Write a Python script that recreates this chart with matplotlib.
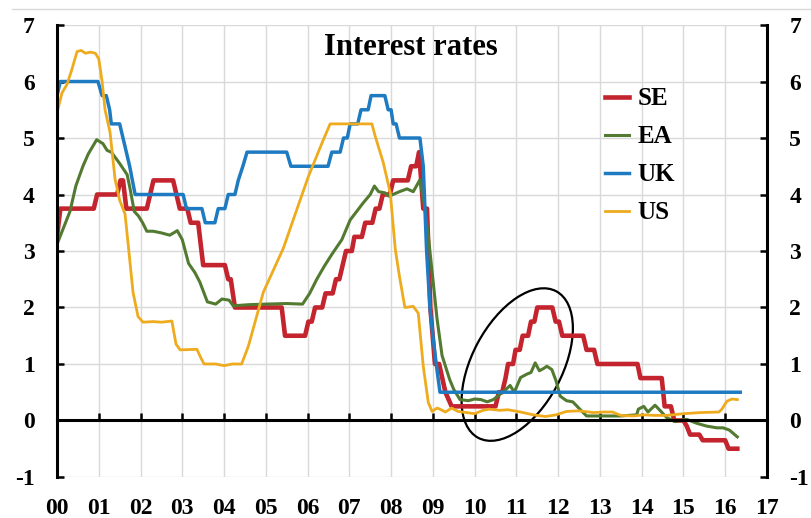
import matplotlib
matplotlib.use("Agg")
import matplotlib.pyplot as plt
from matplotlib.lines import Line2D
from matplotlib.patches import Ellipse
from matplotlib.transforms import ScaledTranslation

plt.rcParams["font.family"] = ["Liberation Serif", "DejaVu Serif"]
plt.rcParams["font.weight"] = "bold"
plt.rcParams["axes.unicode_minus"] = False

# ---------------------------------------------------------------- data
years = list(range(2000, 2018))
year_labels = ["%02d" % (y - 2000) for y in years]

se_t = [2000.00, 2000.08, 2000.88, 2000.96, 2001.44, 2001.52, 2001.58, 2001.66, 2002.15, 2002.23,
        2002.31, 2002.78, 2002.86, 2002.94, 2003.12, 2003.20, 2003.38, 2003.46, 2003.50, 2004.02,
        2004.10, 2004.16, 2004.26, 2005.38, 2005.46, 2005.94, 2006.02, 2006.10, 2006.18, 2006.35,
        2006.43, 2006.60, 2006.68, 2006.76, 2006.84, 2006.92, 2007.06, 2007.12, 2007.30, 2007.38,
        2007.55, 2007.63, 2007.72, 2007.80, 2007.97, 2008.05, 2008.40, 2008.48, 2008.60, 2008.67,
        2008.77, 2008.86, 2008.94, 2009.05, 2009.15, 2009.30, 2009.45, 2010.50, 2010.58, 2010.66,
        2010.74, 2010.80, 2010.92, 2010.98, 2011.08, 2011.15, 2011.28, 2011.35, 2011.43, 2011.50,
        2011.86, 2011.94, 2012.02, 2012.10, 2012.60, 2012.68, 2012.86, 2012.94, 2013.90, 2013.97,
        2014.48, 2014.55, 2014.70, 2014.78, 2015.00, 2015.08, 2015.16, 2015.38, 2015.46, 2016.00,
        2016.08, 2016.29]
se_v = [3.25, 3.75, 3.75, 4.00, 4.00, 4.25, 4.25, 3.75, 3.75, 4.00,
        4.25, 4.25, 4.00, 3.75, 3.75, 3.50, 3.50, 3.00, 2.75, 2.75,
        2.50, 2.50, 2.00, 2.00, 1.50, 1.50, 1.75, 1.75, 2.00, 2.00,
        2.25, 2.25, 2.50, 2.50, 2.75, 3.00, 3.00, 3.25, 3.25, 3.50,
        3.50, 3.75, 3.75, 4.00, 4.00, 4.25, 4.25, 4.50, 4.50, 4.75,
        3.75, 3.75, 2.00, 1.00, 1.00, 0.50, 0.25, 0.25, 0.50, 0.50,
        0.75, 1.00, 1.00, 1.25, 1.25, 1.50, 1.50, 1.75, 1.75, 2.00,
        2.00, 1.75, 1.75, 1.50, 1.50, 1.25, 1.25, 1.00, 1.00, 0.75,
        0.75, 0.25, 0.25, 0.00, 0.00, -0.10, -0.25, -0.25, -0.35, -0.35,
        -0.50, -0.50]

ea_t = [2000.00, 2000.15, 2000.31, 2000.45, 2000.62, 2000.75, 2000.95, 2001.10, 2001.20, 2001.30,
        2001.50, 2001.68, 2001.75, 2001.85, 2001.95, 2002.05, 2002.15, 2002.30, 2002.50, 2002.70,
        2002.88, 2003.00, 2003.15, 2003.30, 2003.42, 2003.60, 2003.80, 2003.95, 2004.12, 2004.22,
        2004.60, 2005.00, 2005.50, 2005.88, 2006.05, 2006.22, 2006.40, 2006.58, 2006.82, 2007.02,
        2007.33, 2007.50, 2007.60, 2007.70, 2007.85, 2007.95, 2008.20, 2008.38, 2008.53, 2008.69,
        2008.80, 2008.90, 2009.00, 2009.10, 2009.22, 2009.40, 2009.50, 2009.65, 2009.85, 2010.00,
        2010.15, 2010.30, 2010.45, 2010.60, 2010.75, 2010.85, 2010.95, 2011.10, 2011.25, 2011.35,
        2011.45, 2011.55, 2011.65, 2011.73, 2011.85, 2011.95, 2012.05, 2012.20, 2012.35, 2012.52,
        2012.68, 2013.00, 2013.50, 2013.88, 2013.92, 2014.05, 2014.15, 2014.32, 2014.45, 2014.60,
        2014.80, 2014.92, 2015.08, 2015.32, 2015.56, 2015.80, 2015.95, 2016.10, 2016.29]
ea_v = [3.12, 3.40, 3.70, 4.15, 4.50, 4.72, 4.97, 4.90, 4.78, 4.75,
        4.55, 4.35, 4.10, 3.70, 3.62, 3.50, 3.35, 3.35, 3.32, 3.28,
        3.36, 3.20, 2.78, 2.62, 2.45, 2.10, 2.06, 2.15, 2.13, 2.03,
        2.05, 2.06, 2.07, 2.06, 2.25, 2.50, 2.73, 2.94, 3.20, 3.55,
        3.85, 4.00, 4.15, 4.05, 4.03, 3.97, 4.05, 4.10, 4.05, 4.26,
        3.80, 3.20, 2.50, 1.80, 1.15, 0.73, 0.55, 0.37, 0.35, 0.38,
        0.37, 0.33, 0.37, 0.46, 0.55, 0.62, 0.50, 0.76, 0.82, 0.85,
        1.02, 0.88, 0.92, 0.96, 0.90, 0.70, 0.43, 0.35, 0.33, 0.20,
        0.08, 0.08, 0.08, 0.10, 0.20, 0.25, 0.15, 0.27, 0.17, 0.05,
        -0.02, 0.00, 0.02, -0.05, -0.10, -0.13, -0.13, -0.17, -0.29]

uk_t = [2000.00, 2000.08, 2000.98, 2001.08, 2001.18, 2001.26, 2001.30, 2001.50, 2001.58, 2001.66,
        2001.74, 2001.87, 2003.02, 2003.10, 2003.47, 2003.55, 2003.78, 2003.86, 2004.02, 2004.10,
        2004.26, 2004.34, 2004.45, 2004.55, 2005.50, 2005.60, 2006.49, 2006.58, 2006.78, 2006.86,
        2006.95, 2007.02, 2007.20, 2007.28, 2007.45, 2007.52, 2007.85, 2007.93, 2008.00, 2008.05,
        2008.12, 2008.20, 2008.69, 2008.77, 2008.85, 2008.93, 2009.00, 2009.08, 2009.17, 2016.36]
uk_v = [5.75, 6.00, 6.00, 5.75, 5.75, 5.50, 5.25, 5.25, 5.00, 4.75,
        4.50, 4.00, 4.00, 3.75, 3.75, 3.50, 3.50, 3.75, 3.75, 4.00,
        4.00, 4.25, 4.50, 4.75, 4.75, 4.50, 4.50, 4.75, 4.75, 5.00,
        5.00, 5.25, 5.25, 5.50, 5.50, 5.75, 5.75, 5.50, 5.50, 5.25,
        5.25, 5.00, 5.00, 4.50, 3.00, 2.00, 1.50, 1.00, 0.50, 0.50]

us_t = [2000.00, 2000.12, 2000.24, 2000.35, 2000.48, 2000.58, 2000.68, 2000.80, 2000.92, 2001.00,
        2001.08, 2001.15, 2001.27, 2001.39, 2001.50, 2001.63, 2001.72, 2001.82, 2001.94, 2002.06,
        2002.30, 2002.50, 2002.75, 2002.85, 2002.95, 2003.35, 2003.45, 2003.52, 2003.80, 2004.00,
        2004.20, 2004.42, 2004.58, 2004.94, 2005.42, 2005.66, 2006.02, 2006.35, 2006.54, 2007.54,
        2007.62, 2007.81, 2007.98, 2008.10, 2008.20, 2008.33, 2008.53, 2008.65, 2008.77, 2008.89,
        2008.98, 2009.10, 2009.17, 2009.30, 2009.45, 2009.60, 2009.80, 2010.00, 2010.20, 2010.35,
        2010.60, 2010.80, 2011.10, 2011.40, 2011.70, 2011.95, 2012.20, 2012.50, 2012.85, 2013.10,
        2013.30, 2013.50, 2013.80, 2014.05, 2014.30, 2014.60, 2015.00, 2015.40, 2015.85, 2015.92,
        2016.04, 2016.16, 2016.29]
us_v = [5.45, 5.80, 5.95, 6.20, 6.53, 6.55, 6.50, 6.52, 6.50, 6.40,
        6.00, 5.50, 5.10, 4.27, 3.90, 3.65, 3.00, 2.27, 1.84, 1.74,
        1.75, 1.74, 1.76, 1.35, 1.25, 1.26, 1.10, 1.00, 1.00, 0.97,
        1.00, 1.00, 1.31, 2.27, 3.05, 3.56, 4.32, 4.92, 5.25, 5.25,
        5.03, 4.57, 4.03, 3.03, 2.55, 2.00, 2.02, 1.90, 0.96, 0.32,
        0.16, 0.22, 0.20, 0.15, 0.22, 0.16, 0.14, 0.12, 0.18, 0.20,
        0.18, 0.19, 0.15, 0.10, 0.07, 0.10, 0.16, 0.17, 0.14, 0.15,
        0.15, 0.09, 0.08, 0.10, 0.09, 0.09, 0.12, 0.14, 0.15, 0.20,
        0.34, 0.38, 0.37]

# highlighted episode: centre in data units
ring_centre = (2011.02, 0.99)

# ---------------------------------------------------------------- figure
fig = plt.figure(figsize=(8.11, 5.18), dpi=100)
ax = fig.add_axes([0.0703, 0.0792, 0.8754, 0.8725])
ax.set_xlim(2000, 2017)
ax.set_ylim(-1, 7)

ax.plot(se_t, se_v, color="#c3242d", lw=3.3, label="SE")
ax.plot(ea_t, ea_v, color="#527a30", lw=2.2, label="EA")
ax.plot(uk_t, uk_v, color="#1f7bc1", lw=2.5, label="UK")
ax.plot(us_t, us_v, color="#eeab1e", lw=2.0, label="US")

ax.grid(True, color="#d9d9d9", lw=1)
ax.set_axisbelow(True)
ax.set_xticks(years)
ax.set_yticks(range(-1, 8))

for s in ("left", "right", "bottom"):
    ax.spines[s].set_linewidth(2.2)
ax.spines["top"].set_visible(False)
ax.spines["bottom"].set_position(("data", 0))

ax.tick_params(axis="x", direction="in", length=5, width=1.8, labelbottom=False)
ax.tick_params(axis="y", direction="in", length=5, width=1.8, left=True, right=True,
               labelleft=True, labelright=True, labelsize=17, pad=16)

sec = ax.secondary_xaxis("bottom")
sec.set_xticks(years)
sec.set_xticklabels(year_labels)
sec.tick_params(length=0, pad=15, labelsize=17)
sec.spines["bottom"].set_visible(False)

ax.text(0.4986, 0.951, "Interest rates", transform=ax.transAxes,
        ha="center", va="center", fontsize=22, fontweight="bold")

ax.legend(loc="upper left", bbox_to_anchor=(0.772, 0.862), frameon=False, fontsize=18,
          handlelength=0.95, handletextpad=0.35, labelspacing=0.6, borderpad=0, borderaxespad=0)

ring = Ellipse((0, 0), 1.66, 0.90, angle=62, fill=False, edgecolor="black", lw=1.6,
               transform=fig.dpi_scale_trans + ScaledTranslation(*ring_centre, ax.transData))
ax.add_patch(ring)

# thin frame line across the top of the chart area
fig.add_artist(Line2D([12 / 811, 1], [1 - 9 / 518] * 2, transform=fig.transFigure,
                      color="#d9d9d9", lw=1))

fig.savefig("out.png", dpi=100)
